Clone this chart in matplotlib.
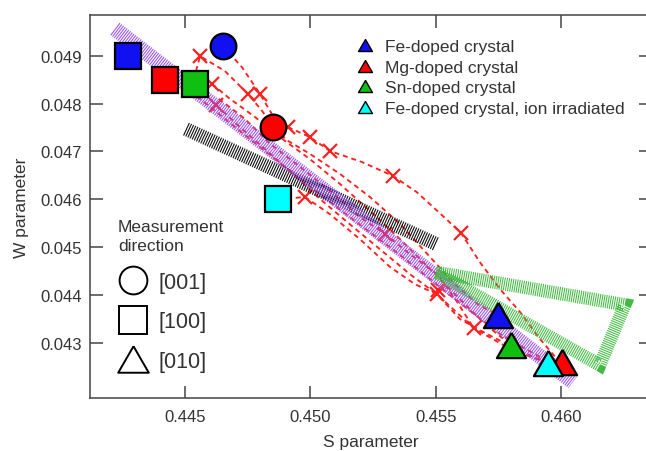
import matplotlib
matplotlib.use('Agg')
import matplotlib.pyplot as plt
from matplotlib.lines import Line2D

plt.rcParams['font.family'] = ['Liberation Sans', 'DejaVu Sans']
plt.rcParams['lines.scale_dashes'] = False

# big markers: S and W parameters per sample / direction
square_s = [0.44271, 0.44422, 0.44540, 0.44871]
square_w = [0.04900, 0.04850, 0.04840, 0.04600]
square_c = ['#1010f0', '#ff0000', '#10c010', '#00ffff']

circle_s = [0.44651, 0.44851]
circle_w = [0.04920, 0.04751]
circle_c = ['#1010f0', '#ff0000']

# red drawn before cyan (cyan sits on top)
triangle_s = [0.45747, 0.45799, 0.46001, 0.45948]
triangle_w = [0.04358, 0.04296, 0.04260, 0.04258]
triangle_c = ['#1010f0', '#10c010', '#ff0000', '#00ffff']

# red dashed curves (angular scans)
dashed_s = [
    [0.44544, 0.44560, 0.44659, 0.44751, 0.44807, 0.44851, 0.44910, 0.44998, 0.45078,
     0.45205, 0.45329, 0.45424, 0.45516, 0.45600, 0.45675, 0.45755, 0.45835, 0.45914, 0.45982],
    [0.44651, 0.44727, 0.44799, 0.44839, 0.44898, 0.44998, 0.45118, 0.45237, 0.45357,
     0.45476, 0.45576, 0.45667, 0.45747],
    [0.44608, 0.44679, 0.44779, 0.44878, 0.44998, 0.45118, 0.45237, 0.45357, 0.45476,
     0.45576, 0.45695, 0.45799],
    [0.44635, 0.44739, 0.44839, 0.44958, 0.45078, 0.45197, 0.45297, 0.45396, 0.45504,
     0.45576, 0.45651],
    [0.44624, 0.44719, 0.44819, 0.44918, 0.45038, 0.45157, 0.45277, 0.45396, 0.45504,
     0.45651, 0.45795, 0.45946],
    [0.44871, 0.44978, 0.45078, 0.45197, 0.45317, 0.45416, 0.45504, 0.45596, 0.45700,
     0.45830, 0.45946],
    [0.44422, 0.44560, 0.44759, 0.44958, 0.45157, 0.45357, 0.45556, 0.45755, 0.45914, 0.46001],
]
dashed_w = [
    [0.04868, 0.04899, 0.04868, 0.04820, 0.04785, 0.04751, 0.04751, 0.04730, 0.04701,
     0.04678, 0.04649, 0.04615, 0.04571, 0.04530, 0.04469, 0.04413, 0.04365, 0.04309, 0.04267],
    [0.04920, 0.04876, 0.04820, 0.04785, 0.04726, 0.04695, 0.04653, 0.04605, 0.04549,
     0.04480, 0.04423, 0.04381, 0.04358],
    [0.04841, 0.04810, 0.04772, 0.04730, 0.04684, 0.04632, 0.04576, 0.04517, 0.04455,
     0.04402, 0.04340, 0.04296],
    [0.04810, 0.04768, 0.04716, 0.04668, 0.04618, 0.04563, 0.04528, 0.04486, 0.04444,
     0.04393, 0.04331],
    [0.04797, 0.04751, 0.04705, 0.04659, 0.04601, 0.04548, 0.04496, 0.04444, 0.04402,
     0.04331, 0.04288, 0.04258],
    [0.04600, 0.04605, 0.04569, 0.04517, 0.04459, 0.04423, 0.04402, 0.04350, 0.04320,
     0.04285, 0.04258],
    [0.04850, 0.04810, 0.04726, 0.04643, 0.04563, 0.04484, 0.04400, 0.04319, 0.04271, 0.04260],
]

cross_s = [0.44560, 0.44608, 0.44624, 0.44751, 0.44799, 0.44910, 0.44998, 0.45078,
           0.45329, 0.45600, 0.44978, 0.45297, 0.45504, 0.45510, 0.45651]
cross_w = [0.04899, 0.04841, 0.04797, 0.04820, 0.04820, 0.04751, 0.04730, 0.04701,
           0.04649, 0.04530, 0.04605, 0.04528, 0.04402, 0.04410, 0.04331]

# hatched guide bands
purple_s = [0.44221, 0.46046]
purple_w = [0.04956, 0.04219]
gray_s = [0.44504, 0.45500]
gray_w = [0.04747, 0.04507]
green_s = [0.45500, 0.46253, 0.46153, 0.45500]
green_w = [0.04448, 0.04380, 0.04254, 0.04448]

legend_labels = ['Fe-doped crystal', 'Mg-doped crystal', 'Sn-doped crystal',
                 'Fe-doped crystal, ion irradiated']
legend_colors = ['#1010f0', '#ff0000', '#10c010', '#00ffff']
direction_labels = ['[001]', '[100]', '[010]']

xticks = [0.445, 0.450, 0.455, 0.460]
yticks = [0.043, 0.044, 0.045, 0.046, 0.047, 0.048, 0.049]

TRI = [(0, 0.433), (-0.5, -0.433), (0.5, -0.433), (0, 0.433)]
AXCOL = '#444444'
TXTCOL = '#333333'

fig = plt.figure(figsize=(6.46, 4.52), dpi=100)
ax = fig.add_axes([0.1393, 0.1173, 0.8684, 0.8480])

for s, w in zip(dashed_s, dashed_w):
    ax.plot(s, w, color='#ff2020', lw=1.35, ls=(0, (3.6, 2.8)), zorder=2)
ax.plot(cross_s, cross_w, ls='none', marker='x', ms=10, mew=1.6, color='#ff2020', zorder=2)

ax.plot(gray_s, gray_w, color='#111111', lw=10, ls=(0, (0.8, 0.9)),
        dash_capstyle='butt', zorder=3)
ax.plot(purple_s, purple_w, color='#9650f0', lw=11, ls=(0, (0.75, 0.85)),
        dash_capstyle='butt', zorder=3)
ax.plot(green_s, green_w, color='#40bb40', lw=9.5, ls=(0, (0.75, 0.8)),
        dash_capstyle='butt', dash_joinstyle='miter', zorder=3)

for s, w, c in zip(square_s, square_w, square_c):
    ax.plot(s, w, marker='s', ms=18.5, mfc=c, mec='black', mew=1.6, ls='none', zorder=5)
for s, w, c in zip(circle_s, circle_w, circle_c):
    ax.plot(s, w, marker='o', ms=18.5, mfc=c, mec='black', mew=1.6, ls='none', zorder=5)
for s, w, c in zip(triangle_s, triangle_w, triangle_c):
    ax.plot(s, w, marker=TRI, ms=21, mfc=c, mec='black', mew=1.6, ls='none', zorder=5)

ax.set_xlim(0.441215, 0.46357)
ax.set_ylim(0.041854, 0.049856)
ax.set_xticks(xticks)
ax.set_yticks(yticks)
ax.set_xticklabels(['%.3f' % v for v in xticks])
ax.set_yticklabels(['%.3f' % v for v in yticks])
ax.tick_params(axis='both', direction='in', length=9, width=1.1, color=AXCOL,
               labelsize=12, labelcolor=TXTCOL, top=True, right=True)
ax.tick_params(axis='x', pad=8)
ax.tick_params(axis='y', pad=6)
for sp in ax.spines.values():
    sp.set_color(AXCOL)
    sp.set_linewidth(1.1)

ax.set_xlabel('S parameter', fontsize=12.5, color=TXTCOL, labelpad=7)
ax.set_ylabel('W parameter', fontsize=12.5, color=TXTCOL, labelpad=8)

# legend of samples
handles = [Line2D([], [], ls='none', marker=TRI, ms=10, mfc=c, mec='black', mew=1.0)
           for c in legend_colors]
leg1 = ax.legend(handles, legend_labels, loc='upper left', bbox_to_anchor=(0.478, 0.936),
                 frameon=False, fontsize=12.5, handlelength=0.8, handletextpad=0.75,
                 labelspacing=0.31, borderpad=0, borderaxespad=0)
for t in leg1.get_texts():
    t.set_color(TXTCOL)
ax.add_artist(leg1)

# legend of measurement directions
dir_markers = ['o', 's', TRI]
dir_sizes = [20, 20, 22]
handles2 = [Line2D([], [], ls='none', marker=m, ms=z, mfc='white', mec='black', mew=1.4)
            for m, z in zip(dir_markers, dir_sizes)]
leg2 = ax.legend(handles2, direction_labels, loc='upper left', bbox_to_anchor=(0.050, 0.468),
                 frameon=False, fontsize=15.5, handlelength=1.4, handletextpad=0.47,
                 labelspacing=0.87, borderpad=0, borderaxespad=0,
                 title='Measurement\ndirection', title_fontsize=12.5, alignment='left')
leg2.get_title().set_color(TXTCOL)
leg2.get_title().set_linespacing(1.35)
for t in leg2.get_texts():
    t.set_color(TXTCOL)

fig.savefig('out.png', dpi=100)
